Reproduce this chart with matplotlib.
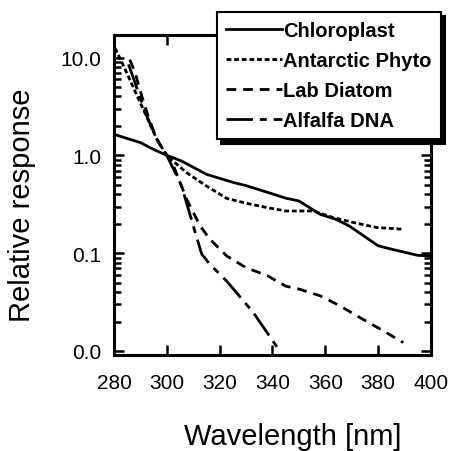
import matplotlib
matplotlib.use("Agg")
import matplotlib.pyplot as plt
from matplotlib.ticker import FixedLocator, FixedFormatter, LogLocator, NullFormatter

plt.rcParams['font.family'] = ['Liberation Sans', 'DejaVu Sans']
plt.rcParams['lines.scale_dashes'] = False

# data
chloro_x = [280, 290, 295, 300, 305.6, 315, 325, 330, 338, 345, 350, 358, 364, 369, 380, 385, 395, 400]
chloro_y = [1.64, 1.35, 1.15, 1.0, 0.875, 0.64, 0.53, 0.49, 0.42, 0.365, 0.342, 0.25, 0.222, 0.19, 0.119, 0.11, 0.095, 0.094]

phyto_x = [280.4, 284, 288, 292, 296, 300, 307.5, 315, 322.6, 330, 338, 345, 355.5, 363, 370.6, 379.4, 389]
phyto_y = [12.5, 7.8, 4.5, 2.6, 1.5, 0.99, 0.665, 0.486, 0.364, 0.324, 0.292, 0.27, 0.27, 0.231, 0.206, 0.183, 0.176]

diatom_x = [286, 288, 290, 292, 294, 296, 298, 300, 302, 307.5, 312.6, 316.3, 322.6, 330, 338, 345, 350, 358, 365.5, 373, 380.7, 389.5]
diatom_y = [9.5, 7.0, 4.5, 3.0, 2.1, 1.5, 1.2, 1.0, 0.85, 0.356, 0.19, 0.139, 0.094, 0.071, 0.059, 0.046, 0.043, 0.0367, 0.029, 0.022, 0.0168, 0.0122]

alfalfa_x = [285.5, 288, 290, 292, 294, 297, 300, 305.6, 310, 313.2, 316.3, 322.6, 332.7, 342.2]
alfalfa_y = [8.5, 5.5, 3.8, 2.7, 2.0, 1.35, 1.0, 0.486, 0.19, 0.098, 0.077, 0.052, 0.0248, 0.0105]

xticks = [280, 300, 320, 340, 360, 380, 400]
yticks = [0.01, 0.1, 1.0, 10.0]
ytick_labels = ["0.0", "0.1", "1.0", "10.0"]

fig = plt.figure(figsize=(4.51, 4.52), dpi=100)
ax = fig.add_axes([114 / 451, 1 - 356 / 452, 317 / 451, 320 / 452])

ax.plot(chloro_x, chloro_y, color='black', lw=2, label='Chloroplast')
ax.plot(phyto_x, phyto_y, color='black', lw=2, dashes=(3.5, 2), label='Antarctic Phyto')
ax.plot(diatom_x, diatom_y, color='black', lw=2, dashes=(7, 5), label='Lab Diatom')
ax.plot(alfalfa_x, alfalfa_y, color='black', lw=2, dashes=(19, 5, 5, 5), label='Alfalfa DNA')

ax.set_yscale('log')
ax.set_xlim(280, 400)
ax.set_ylim(0.0091, 17)

ax.xaxis.set_major_locator(FixedLocator(xticks))
ax.yaxis.set_major_locator(FixedLocator(yticks))
ax.yaxis.set_major_formatter(FixedFormatter(ytick_labels))
ax.yaxis.set_minor_locator(LogLocator(base=10, subs=range(2, 10)))
ax.yaxis.set_minor_formatter(NullFormatter())

for s in ax.spines.values():
    s.set_linewidth(2.2)
ax.tick_params(which='both', direction='in', top=True, right=True, labelsize=15, width=1.8)
ax.tick_params(which='major', length=7)
ax.tick_params(which='minor', length=5)
ax.tick_params(axis='x', pad=13)
ax.tick_params(axis='y', pad=9)

ax.set_xlabel("Wavelength [nm]", fontsize=21)
ax.xaxis.set_label_coords(0.565, -0.21)
ax.set_ylabel("Relative response", fontsize=21)
ax.yaxis.set_label_coords(-0.245, 0.472)

leg = ax.legend(loc='upper left', bbox_to_anchor=(217 / 451, 1 - 13 / 452),
                bbox_transform=fig.transFigure, borderaxespad=0,
                prop={'weight': 'bold', 'size': 14.5}, handlelength=2.8,
                handletextpad=0.05, labelspacing=0.55, borderpad=0.45,
                fancybox=False, framealpha=1, edgecolor='black',
                shadow={'color': 'black', 'alpha': 1, 'ox': 3, 'oy': -3})
leg.get_frame().set_linewidth(1.5)

fig.savefig("out.png", dpi=100)
